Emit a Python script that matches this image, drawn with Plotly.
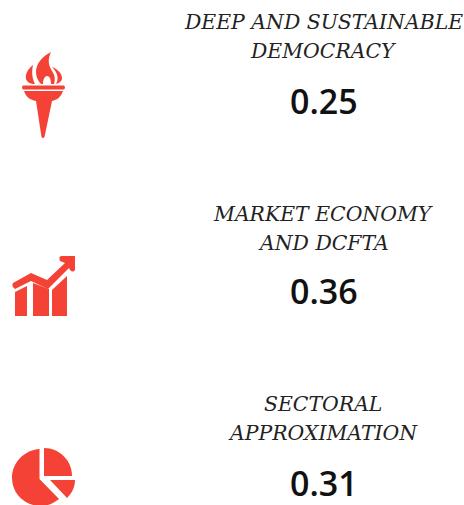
import plotly.graph_objects as go

categories = [["DEEP AND SUSTAINABLE", "DEMOCRACY"], ["MARKET ECONOMY", "AND DCFTA"], ["SECTORAL", "APPROXIMATION"]]
values = [0.25, 0.36, 0.31]
label_centers = [323, 323, 323]
label_y = [22, 214, 404]
value_y = [101, 291, 483]
LINE = 29

RED = "#f44336"
icons = [
    # torch
    "M51,52 C43,56 36,63 36,72 C36,77 38,81 41,84 L43,84 C43,79 45,76 47,76 C50,76 51,80 51,84 L54,84 C56,78 54,74 52,71 C49,66 47,60 51,52 Z",
    "M33,65 C28,69 25,74 26,79 C27,82 30,84 35,84 C33,80 31,74 33,65 Z",
    "M52,67 C57,69 62,73 62,78 C62,81 60,83 56,84 C59,79 58,73 52,67 Z",
    "M23,85.5 L64,85.5 Q66,87.5 64,89.5 L23,89.5 Q21,87.5 23,85.5 Z",
    "M24,91 L63,91 C61,97 57,100 52,101 L44.5,137 Q43,139 41.5,137 L36,101 C30,100 26,97 24,91 Z",
    # chart
    "M15,292 L27,286 L27,316 L15,316 Z",
    "M33,283 L49,289 L49,316 L33,316 Z",
    "M52,290 L67,276 L67,316 L52,316 Z",
    "M13,283 L31,273 L47,280 L65,263 L60,261 Q58,256 62,256 L75,256 L75,270 Q73,273 70,270 L69,268 L48,289 L31,281 L15,289 Q11,286 13,283 Z",
    # pie
    "M39.5,449 C24,450 12,463 12,478 C12,494 25,506 41,506 C48,506 54,503 59,499 L39.5,479 Z",
    "M44,448 C60,448 72,461 72,476 L44,476 Z",
    "M50,480 L75,480 C75,487 72,493 67,498 Z",
]

fig = go.Figure()
fig.update_layout(
    width=464, height=505, margin=dict(l=0, r=0, t=0, b=0),
    paper_bgcolor="white", plot_bgcolor="white", showlegend=False,
    xaxis=dict(range=[0, 464], visible=False, fixedrange=True),
    yaxis=dict(range=[505, 0], visible=False, fixedrange=True),
    shapes=[dict(type="path", path=p, xref="x", yref="y", fillcolor=RED, line_width=0, layer="above") for p in icons],
)
for cat, val, cx, ly, vy in zip(categories, values, label_centers, label_y, value_y):
    for i, line in enumerate(cat):
        fig.add_annotation(x=cx, y=ly + i * LINE, xref="x", yref="y", text=line, showarrow=False, align="center",
                           font=dict(family="DejaVu Serif", size=20.4, color="#222222", style="italic"))
    fig.add_annotation(x=cx + 0.5, y=vy, xref="x", yref="y", text=f"{val:.2f}", showarrow=False,
                       font=dict(family="Open Sans", size=34, color="#111111", weight=600))
fig.write_html("out.html", config={"displayModeBar": False},
               post_script="document.body.style.margin='0';document.documentElement.style.overflow='hidden';")
